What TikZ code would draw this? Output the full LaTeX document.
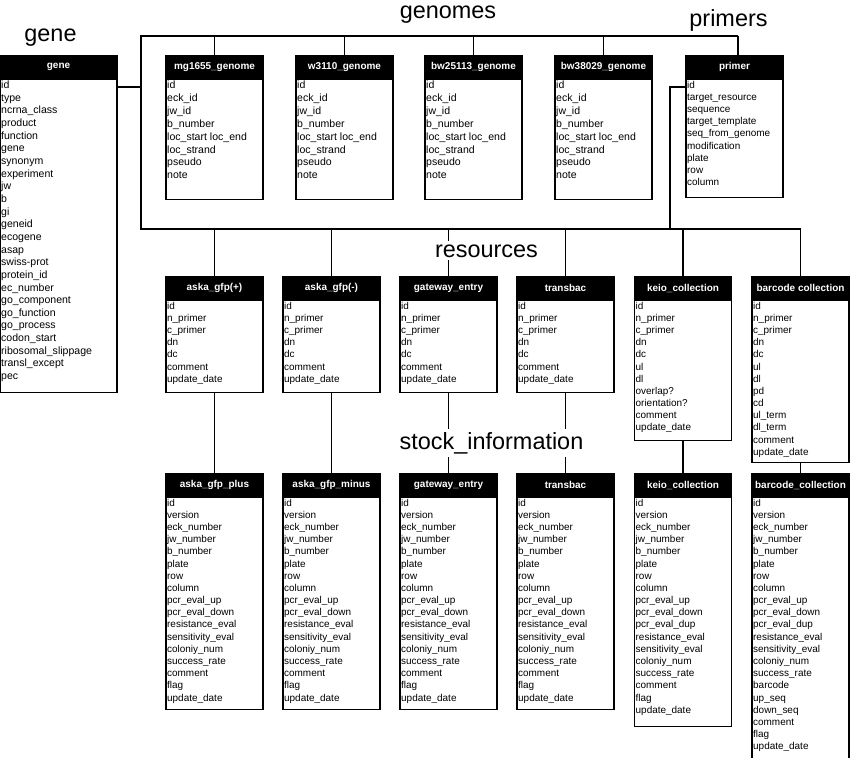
\documentclass[tikz,border=0pt]{standalone}
\usepackage{fontspec}
\setmainfont{Liberation Sans}
\usetikzlibrary{positioning}

% fixed size field list, rows start at the top
\newcommand{\fields}[3]{\parbox[t][\dimexpr#2-2pt\relax][t]{\dimexpr#1-2pt\relax}{\raggedright#3}}
\newcommand{\genomerows}{id\\eck\_id\\jw\_id\\b\_number\\loc\_start loc\_end\\loc\_strand\\pseudo\\note}
\newcommand{\resrows}{id\\n\_primer\\c\_primer\\dn\\dc\\comment\\update\_date}
\newcommand{\stockrows}{id\\version\\eck\_number\\jw\_number\\b\_number\\plate\\row\\column\\pcr\_eval\_up\\pcr\_eval\_down\\resistance\_eval\\sensitivity\_eval\\coloniy\_num\\success\_rate\\comment\\flag\\update\_date}

\begin{document}
\begin{tikzpicture}[x=0.03cm,y=-0.03cm,
  hd/.style={fill=black,draw=black,line width=1pt,text=white,font=\fontsize{8.5}{10}\bfseries,anchor=north,minimum width=2.91cm,minimum height=0.69cm,inner sep=1pt},
  bd/.style={draw,line width=1pt,inner sep=1pt,anchor=north,font=\fontsize{8.5}{10.4}\selectfont},
  ttl/.style={font=\fontsize{20}{24}\selectfont,anchor=base,fill=white,inner sep=2.5pt},
  link/.style={line width=1pt}]
\useasboundingbox (0,0) rectangle (850,757);

% gene
\node[hd,minimum width=3.51cm] (hgene) at (58.5,55) {gene};
\node[bd,below=0pt of hgene,font=\fontsize{9}{10.8}\selectfont] (gene) {\fields{3.51cm}{9.39cm}{id\\type\\ncrna\_class\\product\\function\\gene\\synonym\\experiment\\jw\\b\\gi\\geneid\\ecogene\\asap\\swiss-prot\\protein\_id\\ec\_number\\go\_component\\go\_function\\go\_process\\codon\_start\\ribosomal\_slippage\\transl\_except\\pec}};

% genomes
\node[hd] (hmg) at (214.5,55) {mg1655\_genome};
\node[bd,below=0pt of hmg,font=\fontsize{9}{11}\selectfont] (mg) {\fields{2.91cm}{3.6cm}{\genomerows}};
\node[hd] (hw3) at (344.5,55) {w3110\_genome};
\node[bd,below=0pt of hw3,font=\fontsize{9}{11}\selectfont] (w3) {\fields{2.91cm}{3.6cm}{\genomerows}};
\node[hd] (hbw25) at (473.5,55) {bw25113\_genome};
\node[bd,below=0pt of hbw25,font=\fontsize{9}{11}\selectfont] (bw25) {\fields{2.91cm}{3.6cm}{\genomerows}};
\node[hd] (hbw38) at (603.5,55) {bw38029\_genome};
\node[bd,below=0pt of hbw38,font=\fontsize{9}{11}\selectfont] (bw38) {\fields{2.91cm}{3.6cm}{\genomerows}};

% primers
\node[hd] (hprimer) at (734.5,55) {primer};
\node[bd,below=0pt of hprimer] (primer) {\fields{2.91cm}{3.54cm}{id\\target\_resource\\sequence\\target\_template\\seq\_from\_genome\\modification\\plate\\row\\column}};

% resources
\node[hd] (hrap) at (214.5,276) {aska\_gfp(+)};
\node[bd,below=0pt of hrap] (rap) {\fields{2.91cm}{2.76cm}{\resrows}};
\node[hd] (hram) at (331.5,276) {aska\_gfp(-)};
\node[bd,below=0pt of hram] (ram) {\fields{2.91cm}{2.76cm}{\resrows}};
\node[hd] (hrgw) at (448.5,276) {gateway\_entry};
\node[bd,below=0pt of hrgw] (rgw) {\fields{2.91cm}{2.76cm}{\resrows}};
\node[hd] (hrtb) at (565.5,276) {transbac};
\node[bd,below=0pt of hrtb] (rtb) {\fields{2.91cm}{2.76cm}{\resrows}};
\node[hd] (hrke) at (683,276) {keio\_collection};
\node[bd,below=0pt of hrke] (rke) {\fields{2.91cm}{4.2cm}{id\\n\_primer\\c\_primer\\dn\\dc\\ul\\dl\\overlap?\\orientation?\\comment\\update\_date}};
\node[hd] (hrbc) at (800.5,276) {barcode collection};
\node[bd,below=0pt of hrbc] (rbc) {\fields{2.91cm}{4.86cm}{id\\n\_primer\\c\_primer\\dn\\dc\\ul\\dl\\pd\\cd\\ul\_term\\dl\_term\\comment\\update\_date}};

% stock_information
\node[hd] (hsap) at (214.5,473) {aska\_gfp\_plus};
\node[bd,below=0pt of hsap] (sap) {\fields{2.91cm}{6.36cm}{\stockrows}};
\node[hd] (hsam) at (331.5,473) {aska\_gfp\_minus};
\node[bd,below=0pt of hsam] (sam) {\fields{2.91cm}{6.36cm}{\stockrows}};
\node[hd] (hsgw) at (448.5,473) {gateway\_entry};
\node[bd,below=0pt of hsgw] (sgw) {\fields{2.91cm}{6.36cm}{\stockrows}};
\node[hd] (hstb) at (565.5,473) {transbac};
\node[bd,below=0pt of hstb] (stb) {\fields{2.91cm}{6.36cm}{\stockrows}};
\node[hd] (hske) at (683,473) {keio\_collection};
\node[bd,below=0pt of hske] (ske) {\fields{2.91cm}{6.87cm}{id\\version\\eck\_number\\jw\_number\\b\_number\\plate\\row\\column\\pcr\_eval\_up\\pcr\_eval\_down\\pcr\_eval\_dup\\resistance\_eval\\sensitivity\_eval\\coloniy\_num\\success\_rate\\comment\\flag\\update\_date}};
\node[hd] (hsbc) at (800.5,473) {barcode\_collection};
\node[bd,below=0pt of hsbc] (sbc) {\fields{2.91cm}{7.83cm}{id\\version\\eck\_number\\jw\_number\\b\_number\\plate\\row\\column\\pcr\_eval\_up\\pcr\_eval\_down\\pcr\_eval\_dup\\resistance\_eval\\sensitivity\_eval\\coloniy\_num\\success\_rate\\barcode\\up\_seq\\down\_seq\\comment\\flag\\update\_date}};

% connectors
\coordinate (tl) at (141,36);
\coordinate (tr) at (738,36);
\coordinate (bl) at (141,229);
\coordinate (br) at (800.5,229);
\coordinate (gj) at (141,87);
\coordinate (pk) at (670,87);
\coordinate (pj) at (670,229);
\draw[link] (tr) -- (tl) -- (bl) -- (br);
\draw[link] (gj -| gene.east) -- (gj);
\draw[link] (tr) -- (tr |- hprimer.north);
\draw[link] (pk -| primer.west) -- (pk) -- (pj);
\foreach \t in {mg,w3,bw25,bw38}
  \draw[link] (h\t.north) -- (h\t.north |- tl);
\foreach \r/\s in {rap/sap,ram/sam,rgw/sgw,rtb/stb,rke/ske,rbc/sbc}{
  \draw[link] (h\r.north |- bl) -- (h\r.north);
  \draw[link] (\r.south) -- (h\s.north);
}

% titles
\node[ttl] (tgene) at (50.5,41.5) {gene};
\node[ttl] (tgenomes) at (448,18) {genomes};
\node[ttl] (tprimers) at (728.5,26) {primers};
\node[ttl] (tres) at (486.5,257) {resources};
\node[ttl] (tstock) at (491.5,449) {stock\_information};
\end{tikzpicture}
\end{document}
